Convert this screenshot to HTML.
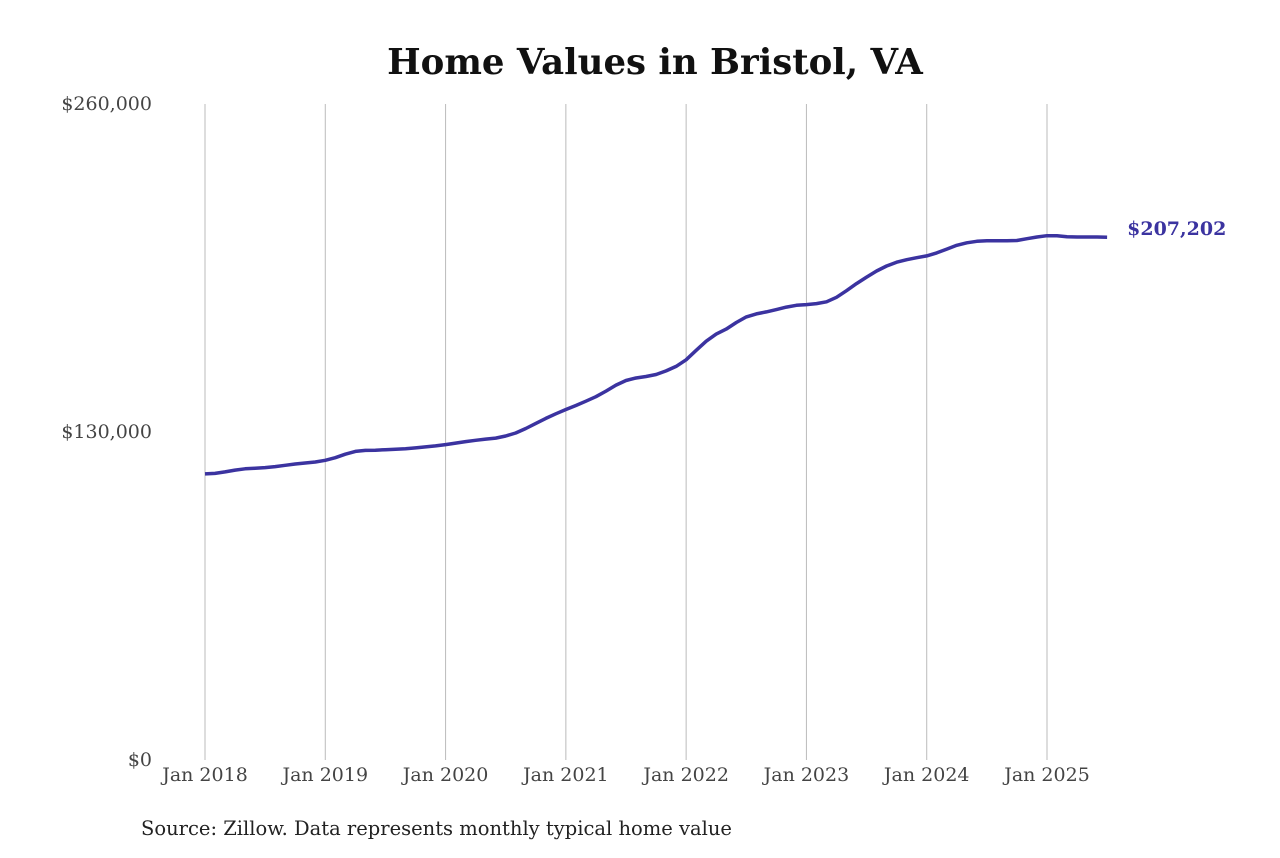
<!DOCTYPE html>
<html><head><meta charset="utf-8"><style>
body{margin:0;background:#fff}
svg text{font-family:"DejaVu Serif","Liberation Serif",serif}
</style></head><body>
<svg width="1280" height="853" xmlns="http://www.w3.org/2000/svg">
<text x="655" y="74" text-anchor="middle" font-size="35.5" font-weight="bold" fill="#111">Home Values in Bristol, VA</text>
<g id="grid"></g>
<g id="yaxis"></g>
<g id="xaxis"></g>
<path id="line" fill="none" stroke="#3b33a0" stroke-width="3.5" stroke-linejoin="round"/>
<text id="endlabel" font-size="19" font-weight="bold" fill="#3b33a0"></text>
<text x="141" y="835" font-size="19.5" fill="#222">Source: Zillow. Data represents monthly typical home value</text>
</svg>
<script>
const yTicks=[0,130000,260000];
const yTickLabels=["$0","$130,000","$260,000"];
const xTickYears=[2018,2019,2020,2021,2022,2023,2024,2025];
const xTickLabels=["Jan 2018","Jan 2019","Jan 2020","Jan 2021","Jan 2022","Jan 2023","Jan 2024","Jan 2025"];
const values=[113.4,113.6,114.2,114.9,115.4,115.6,115.9,116.3,116.8,117.3,117.7,118.1,
118.8,119.8,121.2,122.3,122.7,122.8,123.0,123.2,123.4,123.7,124.1,124.5,
125.0,125.6,126.2,126.7,127.2,127.6,128.4,129.6,131.4,133.4,135.4,137.2,
138.9,140.5,142.2,144.0,146.2,148.6,150.4,151.4,152.0,152.8,154.2,156.0,
158.6,162.4,166.0,168.8,170.8,173.4,175.6,176.8,177.6,178.5,179.5,180.2,
180.5,180.9,181.6,183.4,186.0,188.8,191.4,193.8,195.8,197.3,198.3,199.1,
199.8,201.0,202.5,204.0,205.0,205.6,205.8,205.8,205.8,205.9,206.6,207.3,
207.8,207.8,207.4,207.3,207.3,207.3,207.202];
const endLabel="$207,202";
const NS="http://www.w3.org/2000/svg";
const y=v=>760-v/260000*656;
const x=m=>205+m*(1047-205)/84;
function mk(t,a,p){const e=document.createElementNS(NS,t);for(const k in a)e.setAttribute(k,a[k]);p.appendChild(e);return e;}
const grid=document.getElementById('grid'),ya=document.getElementById('yaxis'),xa=document.getElementById('xaxis');
yTicks.forEach((v,i)=>{const t=mk('text',{x:152,y:y(v)+6,'text-anchor':'end','font-size':19,fill:'#444'},ya);t.textContent=yTickLabels[i];

});
xTickYears.forEach((yr,i)=>{const px=x((yr-2018)*12);
const l=mk('line',{x1:px,x2:px,y1:104,y2:760,stroke:'#bbb','stroke-width':1},grid);


const t=mk('text',{x:px,y:781,'text-anchor':'middle','font-size':19,fill:'#444'},xa);t.textContent=xTickLabels[i];

});
document.getElementById('line').setAttribute('d',values.map((v,i)=>(i?'L':'M')+x(i).toFixed(1)+','+y(v*1000).toFixed(1)).join(''));
const el=document.getElementById('endlabel');const n=values.length-1;
el.setAttribute('x',x(n)+20);el.setAttribute('y',y(values[n]*1000)-2);el.textContent=endLabel;
</script>
</body></html>
